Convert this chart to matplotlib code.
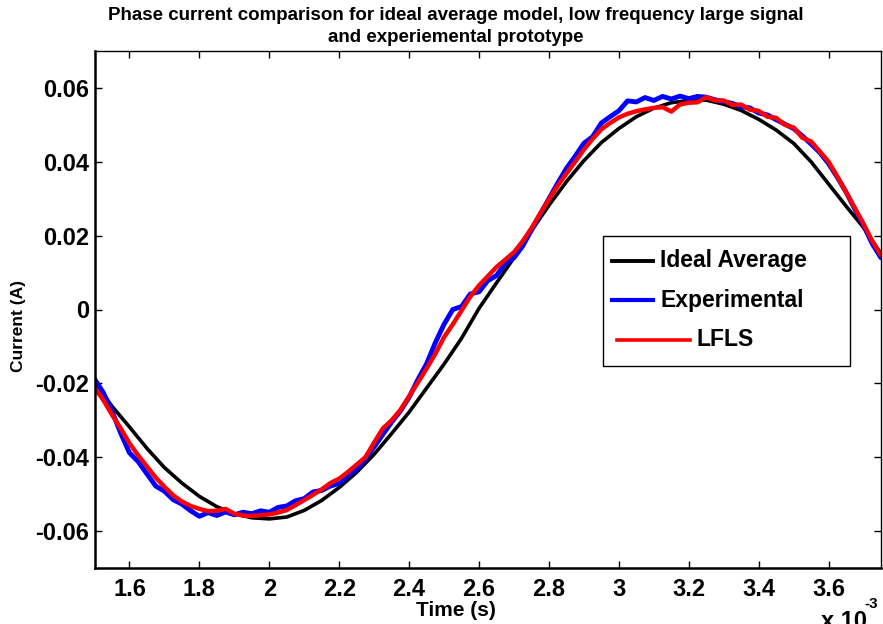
import numpy as np
import matplotlib.pyplot as plt
from matplotlib.patches import Rectangle

# time base in ms (plotted against an x 10^-3 s axis)
t_ideal = np.arange(46) * 0.05 + 1.5
i_ideal = [-0.0197, -0.0262, -0.0318, -0.0376, -0.0428, -0.0470, -0.0506, -0.0534, -0.0553, -0.0564,
           -0.0567, -0.0562, -0.0544, -0.0517, -0.0482, -0.0441, -0.0392, -0.0336, -0.0278, -0.0213,
           -0.0148, -0.0078, 0.0003, 0.0072, 0.0140, 0.0213, 0.0282, 0.0346, 0.0403, 0.0452,
           0.0490, 0.0522, 0.0545, 0.0560, 0.0566, 0.0567, 0.0556, 0.0539, 0.0515, 0.0486,
           0.0450, 0.0400, 0.0340, 0.0280, 0.0222, 0.0151]

t_meas = np.arange(91) * 0.025 + 1.5
i_exp = [-0.0188, -0.0225, -0.0275, -0.0335, -0.0388, -0.0412, -0.0445, -0.0478, -0.0492, -0.0515,
         -0.0527, -0.0545, -0.0560, -0.0550, -0.0558, -0.0548, -0.0556, -0.0549, -0.0553, -0.0545,
         -0.0549, -0.0536, -0.0532, -0.0518, -0.0512, -0.0494, -0.0490, -0.0478, -0.0471, -0.0450,
         -0.0432, -0.0405, -0.0372, -0.0338, -0.0305, -0.0275, -0.0238, -0.0190, -0.0147, -0.0090,
         -0.0040, 0.0000, 0.0008, 0.0042, 0.0048, 0.0078, 0.0092, 0.0125, 0.0140, 0.0172,
         0.0215, 0.0258, 0.0300, 0.0342, 0.0382, 0.0415, 0.0450, 0.0468, 0.0505, 0.0522,
         0.0538, 0.0565, 0.0562, 0.0574, 0.0566, 0.0577, 0.0570, 0.0578, 0.0571, 0.0577,
         0.0575, 0.0568, 0.0563, 0.0558, 0.0549, 0.0546, 0.0532, 0.0527, 0.0514, 0.0502,
         0.0490, 0.0470, 0.0448, 0.0425, 0.0395, 0.0358, 0.0318, 0.0272, 0.0228, 0.0178,
         0.0140]
i_lfls = [-0.0211, -0.0245, -0.0285, -0.0322, -0.0362, -0.0395, -0.0425, -0.0455, -0.0480, -0.0503,
          -0.0520, -0.0532, -0.0540, -0.0546, -0.0545, -0.0540, -0.0553, -0.0558, -0.0559, -0.0557,
          -0.0555, -0.0550, -0.0543, -0.0530, -0.0516, -0.0502, -0.0487, -0.0470, -0.0458, -0.0440,
          -0.0420, -0.0400, -0.0360, -0.0322, -0.0300, -0.0272, -0.0235, -0.0198, -0.0160, -0.0120,
          -0.0075, -0.0040, -0.0003, 0.0035, 0.0065, 0.0090, 0.0115, 0.0135, 0.0155, 0.0185,
          0.0220, 0.0260, 0.0298, 0.0335, 0.0368, 0.0400, 0.0433, 0.0462, 0.0488, 0.0505,
          0.0520, 0.0530, 0.0537, 0.0542, 0.0546, 0.0548, 0.0536, 0.0555, 0.0560, 0.0561,
          0.0575, 0.0566, 0.0566, 0.0554, 0.0555, 0.0541, 0.0538, 0.0522, 0.0519, 0.0500,
          0.0493, 0.0465, 0.0455, 0.0428, 0.0400, 0.0360, 0.0318, 0.0275, 0.0232, 0.0185,
          0.0147]

series_names = ['Ideal Average', 'Experimental', 'LFLS']
xticks = [1.6, 1.8, 2.0, 2.2, 2.4, 2.6, 2.8, 3.0, 3.2, 3.4, 3.6]
xtick_labels = ['1.6', '1.8', '2', '2.2', '2.4', '2.6', '2.8', '3', '3.2', '3.4', '3.6']
yticks = [-0.06, -0.04, -0.02, 0, 0.02, 0.04, 0.06]
ytick_labels = ['-0.06', '-0.04', '-0.02', '0', '0.02', '0.04', '0.06']

font = ['Liberation Sans', 'DejaVu Sans']

W, H = 883, 624
fig = plt.figure(figsize=(W / 100, H / 100), dpi=100)
ax_l, ax_r, ax_t, ax_b = 94.5, 881, 51, 568
ax = fig.add_axes([ax_l / W, 1 - ax_b / H, (ax_r - ax_l) / W, (ax_b - ax_t) / H])

ax.plot(t_ideal, i_ideal, color='black', lw=2.6, solid_capstyle='round')
ax.plot(t_meas, i_exp, color='#0000ff', lw=3.5, solid_capstyle='round')
ax.plot(t_meas, i_lfls, color='#ff0000', lw=3.2, solid_capstyle='round')

ax.set_xlim(1.5, 3.75)
ax.set_ylim(-0.07, 0.07)
ax.set_xticks(xticks)
ax.set_xticklabels(xtick_labels, fontfamily=font, fontweight='bold', fontsize=17)
ax.set_yticks(yticks)
ax.set_yticklabels(ytick_labels, fontfamily=font, fontweight='bold', fontsize=17)
ax.tick_params(direction='in', top=True, right=True, length=5, width=1)
ax.tick_params(axis='x', pad=7)
ax.tick_params(axis='y', pad=4)
for side in ['left', 'bottom']:
    ax.spines[side].set_linewidth(1.8)
for side in ['top', 'right']:
    ax.spines[side].set_linewidth(1.0)

# labels and title
fig.text(456 / W, 1 - 611 / H, 'Time (s)', ha='center', va='center',
         fontfamily=font, fontweight='bold', fontsize=15)
fig.text(19 / W, 1 - 326 / H, 'Current (A)', ha='center', va='center', rotation=90,
         fontfamily=font, fontweight='bold', fontsize=12.5)
fig.text(456 / W, 1 - 15 / H, 'Phase current comparison for ideal average model, low frequency large signal',
         ha='center', va='center', fontfamily=font, fontweight='bold', fontsize=13.5)
fig.text(456 / W, 1 - 38 / H, 'and experiemental prototype',
         ha='center', va='center', fontfamily=font, fontweight='bold', fontsize=13.5)
fig.text(821 / W, 1 - 610 / H, 'x 10', ha='left', va='top',
         fontfamily=font, fontweight='bold', fontsize=17)
fig.text(864 / W, 1 - 597 / H, '-3', ha='left', va='top',
         fontfamily=font, fontweight='bold', fontsize=11)

# legend box drawn in axes fractions
def fx(px):
    return (px - ax_l) / (ax_r - ax_l)

def fy(py):
    return (ax_b - py) / (ax_b - ax_t)

ax.add_patch(Rectangle((fx(603), fy(366)), fx(850) - fx(603), fy(236) - fy(366),
                       transform=ax.transAxes, facecolor='white', edgecolor='black', lw=1.0, zorder=5))
legend_rows = [
    (series_names[0], 'black', 2.8, 612, 653, 660, 261),
    (series_names[1], '#0000ff', 3.0, 612, 653, 660, 300),
    (series_names[2], '#ff0000', 2.6, 617, 690, 697, 340),
]
for name, c, lw, x0, x1, xt, yp in legend_rows:
    ax.plot([fx(x0), fx(x1)], [fy(yp), fy(yp)], color=c, lw=lw, transform=ax.transAxes, zorder=6)
    ax.text(fx(xt), fy(yp), name, transform=ax.transAxes, ha='left', va='center',
            fontfamily=font, fontweight='bold', fontsize=16.5, zorder=6)

fig.savefig('out.png', dpi=100)
